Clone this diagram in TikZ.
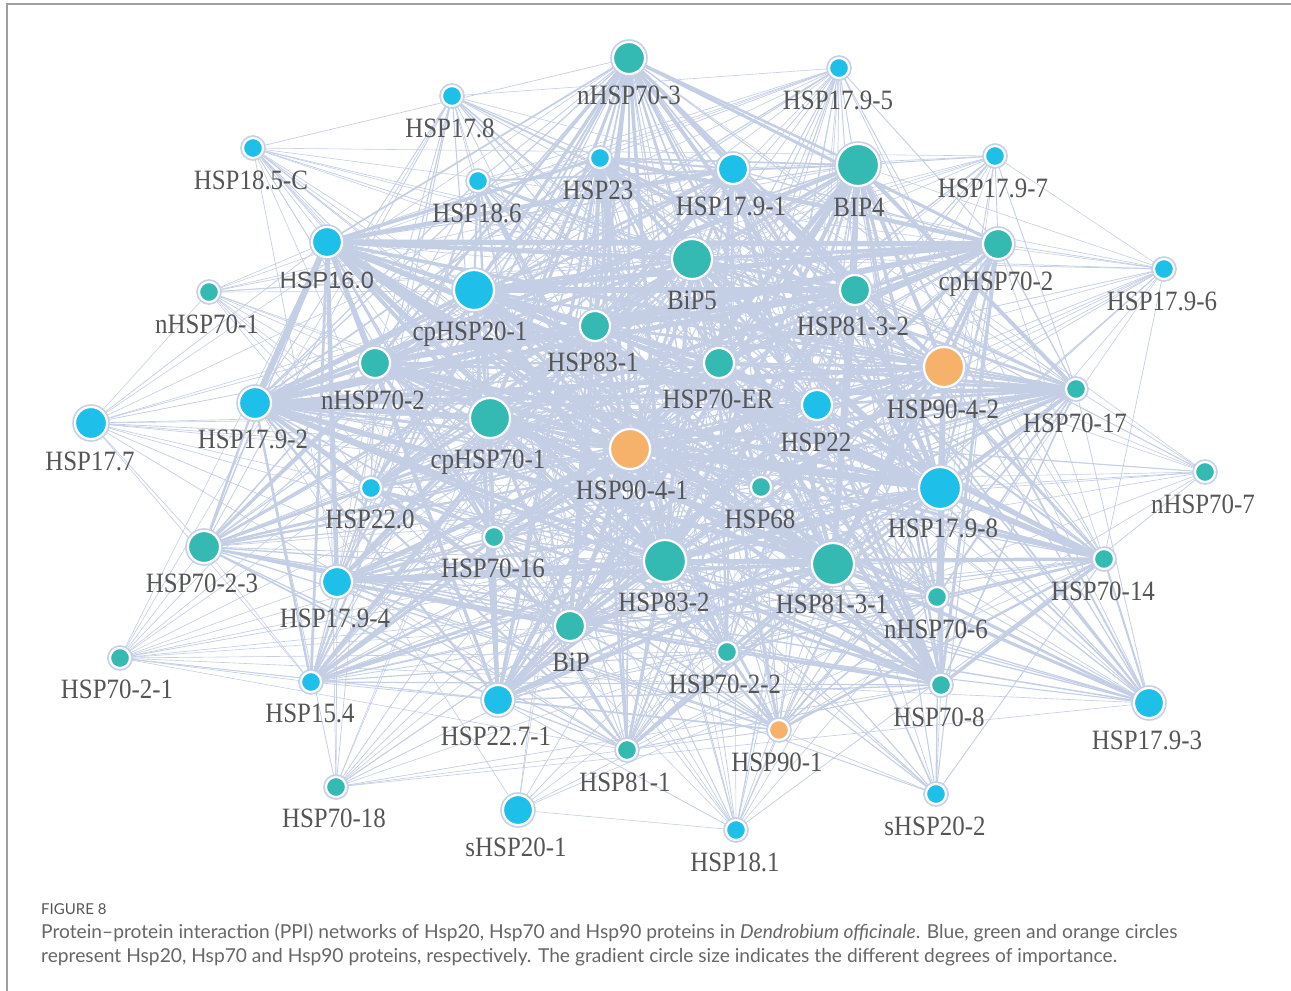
\documentclass[tikz,border=0pt]{standalone}
\usepackage{fontspec}
\usetikzlibrary{backgrounds}
\newfontfamily\lblserif[FakeStretch=0.89]{Liberation Serif}
\newfontfamily\lblsansfam{Liberation Sans}
\newfontfamily\capfont{Lato}
\newcommand\lblr{\lblserif\fontsize{28}{30}\selectfont}
\newcommand\lbls{\lblsansfam\fontsize{23.5}{26}\selectfont}
\definecolor{cb}{HTML}{1EC0EA}
\definecolor{cg}{HTML}{35B9B3}
\definecolor{co}{HTML}{F6B26B}
\definecolor{ringc}{HTML}{C5D0E8}
\definecolor{edgec}{HTML}{C4CEE5}
\definecolor{lblc}{HTML}{555555}
\definecolor{capc}{HTML}{666666}
\definecolor{framec}{HTML}{A0A0A0}
\tikzset{
  vtx/.style 2 args={circle, inner sep=0pt, minimum size=2*#2pt+2pt, fill=#1,
    draw=white, line width=2.2pt, preaction={draw=ringc, line width=5.6pt}},
  edge/.style={draw=edgec, line cap=round},
  lbl/.style={anchor=base, text=lblc, inner sep=0pt},
  captxt/.style={anchor=base west, text=capc, inner sep=0pt},
}
% interaction strength factor of every protein, in node order
\def\impv{{0.85,0.55,0.6,0.45,0.9,0.9,0.95,0.5,0.7,1.0,
           0.95,0.45,0.95,1.0,0.95,0.4,0.95,0.95,0.95,0.9,
           0.95,0.5,0.9,0.9,1.0,1.0,0.8,1.0,0.45,0.85,
           0.8,0.8,1.0,1.0,0.9,0.9,0.75,0.9,0.8,0.4,
           0.85,0.9,0.9,0.75,0.8,0.75,0.45,0.4,0.6,0.5}}
\begin{document}
\begin{tikzpicture}[x=1pt,y=-1pt]
\useasboundingbox (0,0) rectangle (1291,991);
\coordinate (tl) at (7,4);
\coordinate (tr) at (1291,4);
\coordinate (bl) at (7,991);
\draw[framec, line width=1.5pt] (bl) -- (tl) -- (tr);
% proteins: index / x / y / radius / family colour / label font / name / label x / label y
\foreach \k/\x/\y/\rad/\c/\f/\t/\lx/\ly in {
  1/629/58/15/g/r/nHSP70-3/629/94,
  2/839/68/9/b/r/HSP17.9-5/838/99,
  3/452/96/9/b/r/HSP17.8/450/127,
  4/253/148/9/b/r/HSP18.5-C/251/179,
  5/600/158/9/b/r/HSP23/598/189,
  6/733/169/14/b/r/HSP17.9-1/731/205,
  7/858/165/20/g/r/BIP4/859/206,
  8/995/156/9/b/r/HSP17.9-7/993/187,
  9/478/181/9/b/r/HSP18.6/477/212,
  10/327/242/14/b/s/HSP16.0/327/278,
  11/998/244/14/g/r/cpHSP70-2/996/280,
  12/1164/269/9/b/r/HSP17.9-6/1162/300,
  13/692/259/19/g/r/BiP5/692/299,
  14/474/290/19/b/r/cpHSP20-1/470/330,
  15/855/290/14/g/r/HSP81-3-2/853/325,
  16/209/292/9/g/r/nHSP70-1/207/323,
  17/595/326/14/g/r/HSP83-1/593/361,
  18/719/363/14/g/r/HSP70-ER/718/398,
  19/944/367/19/o/r/HSP90-4-2/943/408,
  20/375/363/14/g/r/nHSP70-2/373/399,
  21/255/403/15/b/r/HSP17.9-2/253/438,
  22/91/423/15/b/r/HSP17.7/90/460,
  23/817/405/14/b/r/HSP22/816/441,
  24/1076/389/9/g/r/HSP70-17/1075/422,
  25/490/418/19/g/r/cpHSP70-1/488/458,
  26/630/449/19/o/r/HSP90-4-1/632/489,
  27/761/487/9/g/r/HSP68/760/518,
  28/940/488/20/b/r/HSP17.9-8/943/527,
  29/1205/472/9/g/r/nHSP70-7/1203/503,
  30/371/488/9/b/r/HSP22.0/370/518,
  31/204/547/15/g/r/HSP70-2-3/202/582,
  32/494/537/9/g/r/HSP70-16/493/567,
  33/665/561/20/g/r/HSP83-2/664/601,
  34/833/564/20/g/r/HSP81-3-1/832/603,
  35/1104/559/9/g/r/HSP70-14/1103/590,
  36/337/582/14/b/r/HSP17.9-4/335/617,
  37/937/597/9/g/r/nHSP70-6/936/628,
  38/570/626/14/g/r/BiP/571/661,
  39/727/652/9/g/r/HSP70-2-2/725/683,
  40/120/658/9/g/r/HSP70-2-1/117/688,
  41/311/682/9/b/r/HSP15.4/310/712,
  42/941/685/9/g/r/HSP70-8/939/716,
  43/498/700/14/b/r/HSP22.7-1/496/735,
  44/1149/703/14/b/r/HSP17.9-3/1147/739,
  45/779/730/9/o/r/HSP90-1/777/761,
  46/627/750/9/g/r/HSP81-1/625/781,
  47/336/787/9/g/r/HSP70-18/334/817,
  48/518/810/14/b/r/sHSP20-1/516/846,
  49/936/794/9/b/r/sHSP20-2/935/825,
  50/736/830/9/b/r/HSP18.1/735/861}{
  \node[vtx={c\c}{\rad}] (n\k) at (\x,\y) {};
  \node[lbl, font=\csname lbl\f\endcsname] (t\k) at (\lx,\ly+10) {\t};
}
% interactions, drawn beneath the proteins
\pgfmathsetseed{11}
\begin{pgfonlayer}{background}
\foreach \i in {1,...,49}{
  \pgfmathtruncatemacro\ip{\i+1}
  \foreach \j in {\ip,...,50}{
    \pgfmathsetmacro\pv{\impv[\i-1]*\impv[\j-1]}
    \pgfmathsetmacro\rv{rnd}
    \ifdim\rv pt<\pv pt
      \pgfmathsetmacro\wv{0.6+7*\pv*\pv*\pv*\pv*rnd}
      \draw[edge, line width=\wv pt] (n\i) -- (n\j);
    \fi
  }
}
\end{pgfonlayer}
% caption
\node[captxt, font=\capfont\fontsize{15}{17}\selectfont, text=lblc] (fig) at (41,914) {FIGURE 8};
\node[captxt, font=\capfont\fontsize{19.2}{21}\selectfont] (cap1) at (41,938)
  {Protein–protein interaction (PPI) networks of Hsp20, Hsp70 and Hsp90 proteins in \textit{Dendrobium officinale}. Blue, green and orange circles};
\node[captxt, font=\capfont\fontsize{19.2}{21}\selectfont] (cap2) at (41,962)
  {represent Hsp20, Hsp70 and Hsp90 proteins, respectively. The gradient circle size indicates the different degrees of importance.};
\end{tikzpicture}
\end{document}
